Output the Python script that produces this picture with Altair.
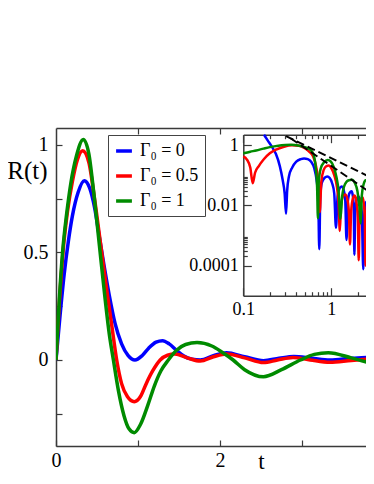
import altair as alt
import pandas as pd

FONT = "Liberation Serif, Times New Roman, DejaVu Serif, serif"
AXIS_GREY = "#3a3a3a"

series_labels = ["Γ₀ = 0", "Γ₀ = 0.5", "Γ₀ = 1"]
series_colors = ["#0000ff", "#ff0000", "#008b00"]

# ---------------- main panel: R(t) ----------------
t_g0 = [0, 0.05, 0.10, 0.15, 0.20, 0.27, 0.345, 0.41, 0.47, 0.53, 0.59, 0.65, 0.72, 0.80,
        0.88, 0.963, 1.05, 1.13, 1.22, 1.30, 1.38, 1.47, 1.56, 1.66, 1.76, 1.92, 2.08, 2.30,
        2.53, 2.72, 2.90, 3.12, 3.34, 3.60, 3.878]
r_g0 = [0, 0.21, 0.40, 0.55, 0.67, 0.78, 0.834, 0.80, 0.71, 0.57, 0.43, 0.30, 0.17, 0.075,
        0.02, 0.0, 0.02, 0.055, 0.083, 0.09, 0.075, 0.045, 0.018, 0.004, 0.0, 0.02, 0.034, 0.015,
        -0.003, 0.008, 0.016, 0.008, 0.0, 0.008, 0.014]

t_g05 = [0, 0.04, 0.085, 0.14, 0.20, 0.26, 0.325, 0.40, 0.47, 0.54, 0.61, 0.68, 0.74, 0.80,
         0.87, 0.955, 1.03, 1.10, 1.18, 1.27, 1.36, 1.45, 1.60, 1.76, 1.92, 2.08, 2.30, 2.53,
         2.70, 2.89, 3.10, 3.34, 3.60, 3.878]
r_g05 = [0, 0.26, 0.5, 0.69, 0.83, 0.93, 0.973, 0.92, 0.75, 0.55, 0.35, 0.16, 0.0, -0.11,
         -0.17, -0.194, -0.17, -0.11, -0.05, 0.0, 0.022, 0.028, 0.01, -0.005, 0.015, 0.028, 0.01, -0.012,
         0.0, 0.012, 0.0, -0.011, -0.002, 0.006]

t_g1 = [0, 0.04, 0.08, 0.13, 0.18, 0.25, 0.333, 0.40, 0.46, 0.53, 0.60, 0.65, 0.70, 0.76,
        0.83, 0.89, 0.955, 1.03, 1.12, 1.20, 1.28, 1.37, 1.47, 1.58, 1.72, 1.90, 2.03, 2.16,
        2.30, 2.53, 2.75, 2.98, 3.15, 3.32, 3.60, 3.878]
r_g1 = [0, 0.28, 0.5, 0.68, 0.82, 0.95, 1.026, 0.96, 0.78, 0.53, 0.28, 0.12, 0.0, -0.14,
        -0.26, -0.32, -0.338, -0.30, -0.21, -0.12, -0.05, 0.0, 0.045, 0.072, 0.081, 0.065, 0.035, 0.0,
        -0.045, -0.078, -0.045, 0.0, 0.026, 0.034, 0.01, -0.02]

# ---------------- inset: log-log ----------------
ti_g0 = [0.172, 0.19, 0.21, 0.235, 0.26, 0.28, 0.295, 0.306, 0.315, 0.33, 0.36, 0.40, 0.45,
         0.49, 0.54, 0.59, 0.64, 0.68, 0.71, 0.73, 0.75, 0.78, 0.84, 0.90, 0.96, 1.02, 1.08,
         1.13, 1.18, 1.24, 1.31, 1.38, 1.44, 1.49, 1.54, 1.62, 1.70, 1.76, 1.80, 1.83, 1.87,
         1.95, 2.03, 2.12, 2.22, 2.31, 2.38, 2.46, 2.53, 2.59, 2.64, 2.67, 2.72, 2.80, 2.90,
         2.98, 3.05]
ri_g0 = [2.2, 1.4, 0.9, 0.5, 0.2, 0.07, 0.025, 0.0052, 0.03, 0.09, 0.18, 0.28, 0.34,
         0.36, 0.34, 0.28, 0.17, 0.07, 0.02, 0.00035, 0.02, 0.055, 0.082, 0.09, 0.08, 0.055, 0.025,
         0.0018, 0.02, 0.036, 0.042, 0.033, 0.015, 0.0007, 0.013, 0.026, 0.029, 0.02, 0.008, 0.00023, 0.007,
         0.016, 0.0197, 0.015, 0.006, 0.000075, 0.005, 0.0115, 0.0134, 0.008, 0.002, 0.00001, 0.002, 0.007, 0.0093,
         0.008, 0.006]

ti_g05 = [0.10, 0.11, 0.12, 0.128, 0.136, 0.15, 0.17, 0.20, 0.24, 0.29, 0.36, 0.43, 0.50,
          0.56, 0.62, 0.67, 0.71, 0.74, 0.77, 0.82, 0.88, 0.94, 1.00, 1.08, 1.16, 1.21, 1.25,
          1.29, 1.36, 1.45, 1.53, 1.59, 1.63, 1.68, 1.76, 1.84, 1.92, 2.00, 2.05, 2.10, 2.18,
          2.25, 2.33, 2.40, 2.45, 2.51, 2.60, 2.68, 2.78, 2.86, 2.90, 2.96, 3.05]
ri_g05 = [0.42, 0.33, 0.18, 0.054, 0.12, 0.2, 0.33, 0.53, 0.72, 0.88, 0.98, 0.95, 0.78,
          0.6, 0.42, 0.2, 0.06, 0.006, 0.06, 0.15, 0.2, 0.21, 0.17, 0.1, 0.04, 0.012, 0.0014,
          0.01, 0.02, 0.023, 0.015, 0.005, 0.0005, 0.006, 0.017, 0.021, 0.014, 0.004, 0.00015, 0.005, 0.014,
          0.019, 0.013, 0.004, 0.0001, 0.005, 0.013, 0.016, 0.011, 0.003, 0.0002, 0.004, 0.009]

ti_g1 = [0.10, 0.12, 0.14, 0.17, 0.20, 0.25, 0.30, 0.35, 0.42, 0.48, 0.54, 0.60, 0.64,
         0.67, 0.69, 0.705, 0.72, 0.76, 0.83, 0.91, 0.99, 1.07, 1.15, 1.21, 1.27, 1.33, 1.43,
         1.58, 1.72, 1.85, 1.98, 2.08, 2.16, 2.22, 2.33, 2.46, 2.60, 2.75, 2.90, 3.05]
ri_g1 = [0.53, 0.6, 0.66, 0.76, 0.85, 0.95, 1.0, 1.02, 0.97, 0.88, 0.78, 0.62, 0.4,
         0.15, 0.04, 0.0037, 0.06, 0.17, 0.27, 0.32, 0.28, 0.18, 0.08, 0.03, 0.0035, 0.02, 0.05,
         0.068, 0.07, 0.055, 0.03, 0.01, 0.0025, 0.02, 0.05, 0.068, 0.065, 0.055, 0.035, 0.02]

# dashed power-law guides (end points)
dash_t_a = [0.306, 3.05]
dash_y_a = [1.98, 0.075]
dash_t_b = [0.348, 3.05]
dash_y_b = [1.64, 0.022]

# tick values
main_x_labels = [0, 2]
main_x_ticks = [0, 1, 2, 3]
main_x_top_ticks = [1, 2, 3]
main_y_labels = [0, 0.5, 1]
main_y_ticks = [-0.25, 0, 0.25, 0.5, 0.75, 1]
inset_x_labels = [0.1, 1]
inset_x_ticks = [0.1, 0.2, 0.3, 0.4, 0.5, 0.6, 0.7, 0.8, 0.9, 1, 2]
inset_y_labels = [1, 0.01, 0.0001]
inset_y_ticks = [1, 0.09, 0.08, 0.07, 0.06, 0.05, 0.04, 0.03, 0.02, 0.01,
                 0.0009, 0.0008, 0.0007, 0.0006, 0.0005, 0.0004, 0.0003, 0.0002, 0.0001]


def long(ts, vs, label):
    return pd.DataFrame({"t": ts, "v": vs, "series": label})


df_main = pd.concat([long(t_g0, r_g0, series_labels[0]),
                     long(t_g05, r_g05, series_labels[1]),
                     long(t_g1, r_g1, series_labels[2])], ignore_index=True)
df_in = pd.concat([long(ti_g0, ri_g0, series_labels[0]),
                   long(ti_g05, ri_g05, series_labels[1]),
                   long(ti_g1, ri_g1, series_labels[2])], ignore_index=True)
df_dash = pd.concat([pd.DataFrame({"t": dash_t_a, "v": dash_y_a, "g": "a"}),
                     pd.DataFrame({"t": dash_t_b, "v": dash_y_b, "g": "b"})], ignore_index=True)

# the page (8px margins) leaves 358px for the svg; the reference is cut at the window edge
W, H = 310, 318
main_x_dom = [0, 3.78]
main_y_dom = [-0.4, 1.079]
in_x_dom = [0.1, 2.48]
in_y_dom = [1e-5, 2.2]
IN_LEFT, IN_TOP, IN_BOTTOM = 187.3, 6.7, 167.7


def xs_main():
    return alt.Scale(domain=main_x_dom, nice=False, zero=False)


def ys_main():
    return alt.Scale(domain=main_y_dom, nice=False, zero=False)


def xs_in():
    return alt.Scale(type="log", domain=in_x_dom, range=[IN_LEFT, W], nice=False)


def ys_in():
    return alt.Scale(type="log", domain=in_y_dom, range=[IN_BOTTOM, IN_TOP], nice=False)


base = dict(grid=False, domainColor=AXIS_GREY, domainWidth=1.5, tickColor=AXIS_GREY,
            tickWidth=1.2, labelFont=FONT, labelColor="black", labelFlush=False,
            labelOverlap=False)
tick_only = dict(base, labels=False, title=None)

x_major_test = "datum.value == 0.1 || datum.value == 1"
y_major_test = "datum.value == 1 || datum.value == 0.01 || datum.value == 0.0001"
x_tick_size = {"condition": {"test": x_major_test, "value": 8}, "value": 4}
y_tick_size = {"condition": {"test": y_major_test, "value": 8}, "value": 4}

color_scale = alt.Scale(domain=series_labels, range=series_colors)

# main lines with labelled axes
main_lines = alt.Chart(df_main).mark_line(strokeWidth=3.5, interpolate="monotone", clip=True).encode(
    x=alt.X("t:Q", scale=xs_main(), axis=alt.Axis(
        orient="bottom", values=main_x_labels, ticks=False, tickSize=0, format="d",
        labelFontSize=20, labelPadding=4, title="t", titleFont=FONT, titleFontSize=23,
        titleFontWeight="normal", titleColor="black", titleX=205, titleY=15,
        titleAlign="center", titleBaseline="middle", **base)),
    y=alt.Y("v:Q", scale=ys_main(), axis=alt.Axis(
        orient="left", values=main_y_labels, ticks=False, tickSize=0, format=".1~f",
        labelFontSize=20, labelPadding=8, title="R(t)", titleFont=FONT, titleFontSize=25,
        titleFontWeight="normal", titleColor="black", titleAngle=0, titleX=-29, titleY=42,
        titleAlign="center", titleBaseline="middle", **base)),
    color=alt.Color("series:N", scale=color_scale, legend=alt.Legend(
        orient="none", legendX=52, legendY=7, direction="vertical", title=None,
        symbolType="stroke", symbolStrokeWidth=3.5, symbolSize=250,
        labelFont=FONT, labelFontSize=18, labelColor="black", labelOffset=6,
        rowPadding=6, padding=6, strokeColor="#444444", fillColor="white", labelLimit=200)),
)

# inward ticks on main bottom/left
main_ticks = alt.Chart(df_main).mark_line(opacity=0).encode(
    x=alt.X("t:Q", scale=xs_main(), axis=alt.Axis(
        orient="top", offset=-H, values=main_x_ticks, domain=False, tickSize=6, **tick_only)),
    y=alt.Y("v:Q", scale=ys_main(), axis=alt.Axis(
        orient="right", offset=-W, values=main_y_ticks, domain=False, tickSize=6, **tick_only)),
)

# main top frame with downward ticks
main_top = alt.Chart(df_main).mark_line(opacity=0).encode(
    x=alt.X("t:Q", scale=xs_main(), axis=alt.Axis(
        orient="bottom", offset=-H, values=main_x_top_ticks, domain=True, tickSize=6, **tick_only)),
    y=alt.Y("v:Q", scale=ys_main(), axis=None),
)

# inset lines with labelled axes
inset_lines = alt.Chart(df_in).mark_line(strokeWidth=2.5, interpolate="monotone", clip=True).encode(
    x=alt.X("t:Q", scale=xs_in(), axis=alt.Axis(
        orient="bottom", offset=-(H - IN_BOTTOM), values=inset_x_labels, ticks=False,
        tickSize=0, format="~g", labelFontSize=18, labelPadding=5, title=None, **base)),
    y=alt.Y("v:Q", scale=ys_in(), axis=alt.Axis(
        orient="left", offset=-IN_LEFT, values=inset_y_labels, ticks=False, tickSize=0,
        format=".4~f", labelFontSize=18, labelPadding=5, title=None, **base)),
    color=alt.Color("series:N", scale=color_scale, legend=None),
)

inset_ticks = alt.Chart(df_in).mark_line(opacity=0).encode(
    x=alt.X("t:Q", scale=xs_in(), axis=alt.Axis(
        orient="top", offset=-IN_BOTTOM, values=inset_x_ticks, domain=False,
        tickSize=x_tick_size, **tick_only)),
    y=alt.Y("v:Q", scale=ys_in(), axis=alt.Axis(
        orient="right", offset=-(W - IN_LEFT), values=inset_y_ticks, domain=False,
        tickSize=y_tick_size, **tick_only)),
)

inset_top = alt.Chart(df_in).mark_line(opacity=0).encode(
    x=alt.X("t:Q", scale=xs_in(), axis=alt.Axis(
        orient="bottom", offset=-(H - IN_TOP), values=inset_x_ticks, domain=True,
        tickSize=x_tick_size, **tick_only)),
    y=alt.Y("v:Q", scale=ys_in(), axis=None),
)

dashes = alt.Chart(df_dash).mark_line(color="black", strokeWidth=2, strokeDash=[8, 4], clip=True).encode(
    x=alt.X("t:Q", scale=xs_in(), axis=None),
    y=alt.Y("v:Q", scale=ys_in(), axis=None),
    detail="g:N",
)

chart = alt.layer(
    main_ticks, main_top, main_lines, inset_ticks, inset_top, inset_lines, dashes
).resolve_scale(
    x="independent", y="independent", color="independent"
).resolve_axis(
    x="independent", y="independent"
).resolve_legend(
    color="independent"
).properties(
    width=W, height=H,
    padding={"left": 48, "top": 120, "right": 0, "bottom": 26},
    autosize=alt.AutoSizeParams(type="none"),
).configure(background="white").configure_view(stroke=None)

chart.save("out.html", embed_options={"renderer": "svg", "actions": False})
